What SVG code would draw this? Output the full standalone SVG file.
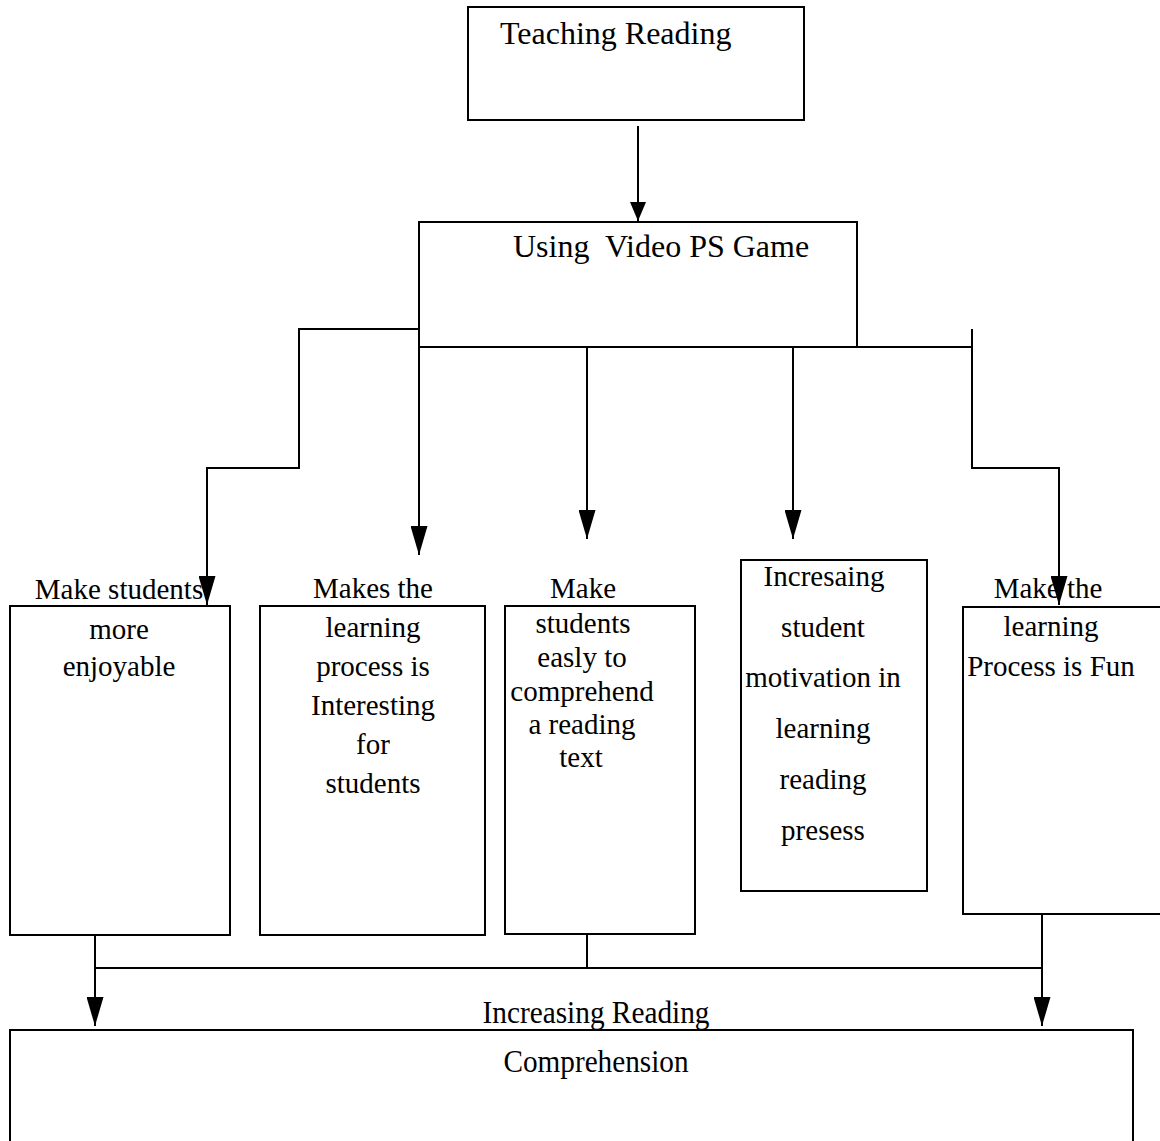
<svg xmlns="http://www.w3.org/2000/svg" width="1160" height="1141" viewBox="0 0 1160 1141">
<style>
.box{fill:#fff;stroke:#000;stroke-width:2}
.t{font-family:"Liberation Serif","Times New Roman",serif;font-size:29px;fill:#000;text-anchor:middle}
.h{font-family:"Liberation Serif","Times New Roman",serif;font-size:32px;fill:#000;white-space:pre}
.c{fill:none;stroke:#000;stroke-width:2}
</style>
<defs>
<marker id="ah" markerUnits="userSpaceOnUse" markerWidth="29" markerHeight="17" viewBox="0 0 29 17" refX="29" refY="8.5" orient="auto"><path d="M0,0 L29,8.5 L0,17 z" fill="#000"/></marker>
<marker id="ahs" markerUnits="userSpaceOnUse" markerWidth="19" markerHeight="16" viewBox="0 0 19 16" refX="19" refY="8" orient="auto"><path d="M0,0 L19,8 L0,16 z" fill="#000"/></marker>
</defs>
<rect width="1160" height="1141" fill="#fff"/>
<g id="teaching-reading">
<rect class="box" x="468" y="7" width="336" height="113"/>
<text class="h" x="500" y="44">Teaching Reading</text>
</g>
<g id="using-video">
<rect class="box" x="419" y="222" width="438" height="125"/>
<text class="h" x="513" y="257">Using  Video PS Game</text>
</g>
<g id="box1">
<rect class="box" x="10" y="606" width="220" height="329"/>
<text class="t" x="119" y="599">Make students</text>
<text class="t" x="119" y="639">more</text>
<text class="t" x="119" y="676">enjoyable</text>
</g>
<g id="box2">
<rect class="box" x="260" y="606" width="225" height="329"/>
<text class="t" x="373" y="598">Makes the</text>
<text class="t" x="373" y="637">learning</text>
<text class="t" x="373" y="676">process is</text>
<text class="t" x="373" y="715">Interesting</text>
<text class="t" x="373" y="754">for</text>
<text class="t" x="373" y="793">students</text>
</g>
<g id="box3">
<rect class="box" x="505" y="606" width="190" height="328"/>
<text class="t" x="583" y="598">Make</text>
<text class="t" x="583" y="633">students</text>
<text class="t" x="582" y="667">easly to</text>
<text class="t" x="582" y="701">comprehend</text>
<text class="t" x="582" y="734">a reading</text>
<text class="t" x="581" y="767">text</text>
</g>
<g id="box4">
<rect class="box" x="741" y="560" width="186" height="331"/>
<text class="t" x="824" y="586">Incresaing</text>
<text class="t" x="823" y="637">student</text>
<text class="t" x="823" y="687">motivation in</text>
<text class="t" x="823" y="738">learning</text>
<text class="t" x="823" y="789">reading</text>
<text class="t" x="823" y="840">presess</text>
</g>
<g id="box5">
<rect class="box" x="963" y="607" width="202" height="307"/>
<text class="t" x="1048" y="598">Make the</text>
<text class="t" x="1051" y="636">learning</text>
<text class="t" x="1051" y="676">Process is Fun</text>
</g>
<g id="comprehension">
<rect class="box" x="10" y="1030" width="1123" height="130"/>
<text class="t" x="596" y="1023" textLength="227" lengthAdjust="spacingAndGlyphs" style="font-size:32px">Increasing Reading</text>
<text class="t" x="596" y="1072" textLength="185" lengthAdjust="spacingAndGlyphs" style="font-size:32px">Comprehension</text>
</g>
<g id="connectors">
<path class="c" d="M638,126 V221" marker-end="url(#ahs)"/>
<path class="c" d="M419,329 H299 V468 H207 V605" marker-end="url(#ah)"/>
<path class="c" d="M419,347 H972"/>
<path class="c" d="M419,347 V555" marker-end="url(#ah)"/>
<path class="c" d="M587,347 V539" marker-end="url(#ah)"/>
<path class="c" d="M793,347 V539" marker-end="url(#ah)"/>
<path class="c" d="M972,329 V468 H1059 V605" marker-end="url(#ah)"/>
<path class="c" d="M95,935 V1026" marker-end="url(#ah)"/>
<path class="c" d="M95,968 H1042"/>
<path class="c" d="M587,934 V968"/>
<path class="c" d="M1042,914 V1026" marker-end="url(#ah)"/>
</g>
</svg>
